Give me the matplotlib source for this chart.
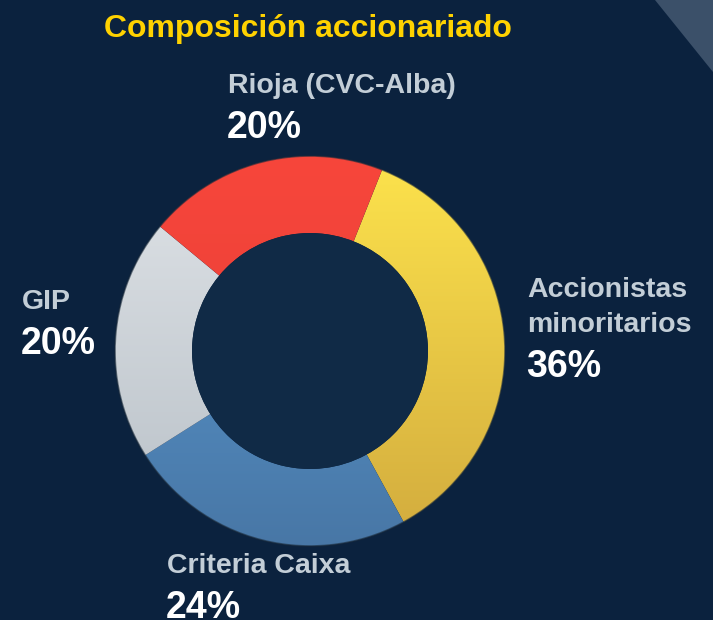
import numpy as np
import matplotlib
matplotlib.use("Agg")
import matplotlib.pyplot as plt
from matplotlib.patches import Polygon, Circle
from matplotlib.colors import to_rgb

# datos de la composición accionarial
accionistas = ["Accionistas\nminoritarios", "Criteria Caixa", "GIP", "Rioja (CVC-Alba)"]
porcentajes = [36, 24, 20, 20]
etiquetas_pct = ["36%", "24%", "20%", "20%"]

# colores (arriba / abajo para el degradado)
col_arriba = ["#fde34c", "#5d9dd6", "#dfe3e7", "#f7463b"]
col_abajo = ["#d2ab3e", "#4877a6", "#b8c0c7", "#e33d36"]

fondo = "#0b223e"
hueco = "#102a46"
W, H = 713, 620

fig = plt.figure(figsize=(W / 100, H / 100), dpi=100)
fig.patch.set_facecolor(fondo)
ax = fig.add_axes([0, 0, 1, 1])
ax.set_facecolor(fondo)

# adorno arriba a la derecha
ax.add_patch(Polygon([(655, H), (W, H), (W, H - 72)], closed=True,
                     facecolor="#3b5069", edgecolor="none", zorder=0))

cx, cy = 310, H - 351
R = 195
ancho = 0.395

wedges, _ = ax.pie(porcentajes, startangle=68.3, counterclock=False,
                   radius=R, center=(cx, cy), frame=True,
                   wedgeprops=dict(width=R * ancho, linewidth=0))

# degradado vertical dentro de cada porción
for w, c1, c2 in zip(wedges, col_arriba, col_abajo):
    w.set_facecolor("none")
    t = np.linspace(0, 1, 256)[:, None]
    img = (1 - t) * np.array(to_rgb(c1)) + t * np.array(to_rgb(c2))
    img = img[:, None, :]
    im = ax.imshow(img, extent=(cx - R, cx + R, cy - R, cy + R),
                   origin="upper", aspect="auto", zorder=1)
    im.set_clip_path(w)

# sombra en el borde exterior
ax.add_patch(Circle((cx, cy), R, facecolor="none", edgecolor="#1a2a3a",
                    linewidth=1.2, alpha=0.6, zorder=2))
ax.add_patch(Circle((cx, cy), R * (1 - ancho), facecolor=hueco,
                    edgecolor="none", zorder=2))

ax.set_xlim(0, W)
ax.set_ylim(0, H)
ax.set_aspect("equal")
ax.axis("off")

fuente = "Liberation Sans"
ax.text(308, H - 37, "Composición accionariado", color="#ffd200",
        fontsize=23, fontweight="bold", family=fuente, ha="center", va="baseline")

# posiciones de las etiquetas (x, línea base del nombre)
pos_etiquetas = [(527, 297), (167, 573), (22, 309), (228, 93)]
for nombre, pct, (x, y) in zip(accionistas, etiquetas_pct, pos_etiquetas):
    lineas = nombre.split("\n")
    for i, ln in enumerate(lineas):
        ax.text(x, H - (y + 35 * i), ln, color="#c3ced7", fontsize=20.5,
                fontweight="bold", family=fuente, ha="left", va="baseline")
    yb = y + 35 * (len(lineas) - 1) + 45
    ax.text(x - 1, H - yb, pct, color="white", fontsize=27,
            fontweight="bold", family=fuente, ha="left", va="baseline")

fig.savefig("out.png", dpi=100, facecolor=fondo)
